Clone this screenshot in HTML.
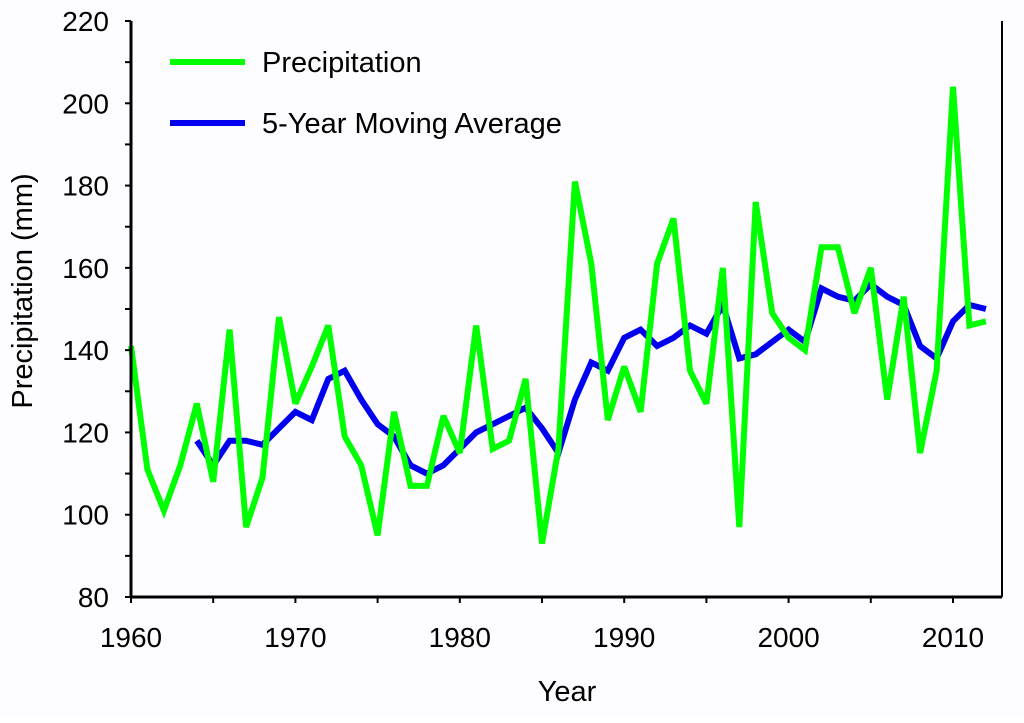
<!DOCTYPE html>
<html><head><meta charset="utf-8"><style>
html,body{margin:0;padding:0;background:#fff;}
svg text{font-family:"Liberation Sans",Arial,sans-serif;fill:#000;}
</style></head><body>
<svg id="chart" width="1024" height="718" viewBox="0 0 1024 718" xmlns="http://www.w3.org/2000/svg">
<rect x="0" y="0" width="1024" height="718" fill="#fdfdff"/>
<g id="series"></g>
<g id="axes"></g>
<g>
<line x1="170" y1="62" x2="245" y2="62" stroke="#00ff00" stroke-width="6"/>
<text x="262" y="72" font-size="29">Precipitation</text>
<line x1="170" y1="123" x2="245" y2="123" stroke="#0000ee" stroke-width="6"/>
<text x="262" y="133" font-size="29">5-Year Moving Average</text>
</g>
<text x="567" y="701" font-size="29" text-anchor="middle">Year</text>
<text transform="translate(32,291) rotate(-90)" font-size="29" text-anchor="middle">Precipitation (mm)</text>
</svg>
<script>
const precipStartYear = 1960;
const precipValues = [141,111,101,112,127,108,145,97,109,148,127,136,146,119,112,95,125,107,107,124,115,146,116,118,133,93,116,181,161,123,136,125,161,172,135,127,160,97,176,149,143,140,165,165,149,160,128,153,115,135,204,146,147];
const maStartYear = 1964;
const maValues = [118,112,118,118,117,121,125,123,133,135,128,122,119,112,110,112,116,120,122,124,126,121,115,128,137,135,143,145,141,143,146,144,151,138,139,142,145,142,155,153,152,156,153,151,141,138,147,151,150];
const xTickLabels = [1960,1970,1980,1990,2000,2010];
const yTickLabels = [80,100,120,140,160,180,200,220];

const NS = "http://www.w3.org/2000/svg";
const L = 131, R = 1002, T = 21, B = 597;
const xMin = 1960, yMin = 80, yMax = 220;
const pxPerYear = (953 - 131) / 50;
function xs(v){ return L + (v - xMin) * pxPerYear; }
function ys(v){ return B - (v - yMin) / (yMax - yMin) * (B - T); }
function mk(tag, attrs, parent){ const e = document.createElementNS(NS, tag); for (const k in attrs) e.setAttribute(k, attrs[k]); parent.appendChild(e); return e; }

const series = document.getElementById('series');
const axes = document.getElementById('axes');

function drawLine(start, vals, color, name){
  const pts = vals.map((v,i)=> xs(start+i).toFixed(1)+','+ys(v).toFixed(1)).join(' ');
  const p = mk('polyline', {points: pts, fill:'none', stroke: color, 'stroke-width': 6, 'stroke-linejoin':'miter', 'stroke-miterlimit': 3}, series);
  
  
}
drawLine(maStartYear, maValues, '#0000ee', 'moving-average-line');
drawLine(precipStartYear, precipValues, '#00ff00', 'precipitation-line');

let a = mk('line', {x1:L, y1:T, x2:L, y2:B+1, stroke:'#000', 'stroke-width':3}, axes);


a = mk('line', {x1:L-1, y1:B, x2:R, y2:B, stroke:'#000', 'stroke-width':3}, axes);


a = mk('line', {x1:R, y1:T, x2:R, y2:B, stroke:'#000', 'stroke-width':2}, axes);



for (let v = yMin; v <= yMax; v += 10){
  const t = mk('line', {x1: L - 6, y1: ys(v), x2: L, y2: ys(v), stroke:'#000', 'stroke-width':2}, axes);
  
  
}
yTickLabels.forEach(v=>{
  const t = mk('text', {x: L - 22, y: ys(v) + 10, 'font-size': 28, 'text-anchor':'end'}, axes);
  t.textContent = v;
  
  
});
for (let y = 1960; y <= 2010; y += 5){
  const t = mk('line', {x1: xs(y), y1: B, x2: xs(y), y2: B + 6, stroke:'#000', 'stroke-width':2}, axes);
  
  
}
xTickLabels.forEach(v=>{
  const t = mk('text', {x: xs(v), y: 647, 'font-size': 28, 'text-anchor':'middle'}, axes);
  t.textContent = v;
  
  
});
</script>
</body></html>
